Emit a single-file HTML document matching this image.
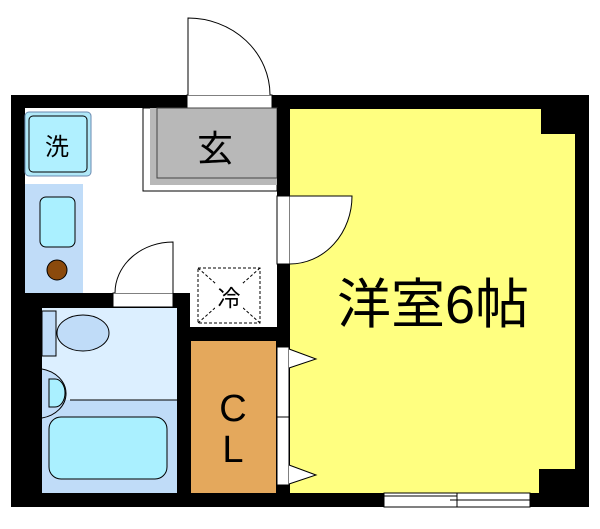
<!DOCTYPE html>
<html><head><meta charset="utf-8"><style>
body{margin:0;background:#fff;width:600px;height:524px;overflow:hidden}
svg text{font-family:"Liberation Sans","Noto Sans CJK JP",sans-serif}
</style></head><body>
<svg width="600" height="524" viewBox="0 0 600 524" xmlns="http://www.w3.org/2000/svg">
<rect x="11" y="95" width="578" height="412" fill="#000"/>
<rect x="25" y="108" width="252" height="185" fill="#fff"/>
<rect x="190" y="293" width="87" height="34" fill="#fff"/>
<rect x="290" y="109" width="285" height="384" fill="#ffff80"/>
<rect x="541" y="108" width="35" height="26" fill="#000"/>
<rect x="539" y="469" width="37" height="25" fill="#000"/>
<rect x="384" y="493" width="146" height="14" fill="#fff" stroke="#000" stroke-width="1"/>
<line x1="384" y1="496" x2="457" y2="496" stroke="#000"/>
<line x1="450" y1="500" x2="530" y2="500" stroke="#000"/>
<line x1="457" y1="493" x2="457" y2="507" stroke="#000"/>
<rect x="187" y="95" width="85" height="13" fill="#fff" stroke="#000" stroke-width="1"/>
<path d="M188 95 V18 A82 77 0 0 1 270 95" fill="#fff" stroke="#000"/>
<rect x="143" y="108" width="134" height="83" fill="#fff" stroke="#000"/>
<rect x="150" y="108" width="127" height="77" fill="#b8b8b8"/>
<rect x="157" y="108" width="120" height="70" fill="#b8b8b8" stroke="#444"/>
<text x="215" y="161" font-size="36" text-anchor="middle">玄</text>
<rect x="277" y="108" width="13" height="88" fill="#000"/>
<rect x="277" y="196" width="13" height="68" fill="#fff" stroke="#000" stroke-width="1"/>
<path d="M290 196 H352 A62 68 0 0 1 290 264" fill="#fff" stroke="#000"/>
<rect x="25" y="112" width="66" height="64" rx="4" fill="#b0e8f8" stroke="#6a8ab0"/>
<rect x="29" y="116" width="58" height="56" rx="4" fill="#b0f0ff" stroke="#000"/>
<text x="57" y="155" font-size="24" text-anchor="middle">洗</text>
<rect x="25" y="184" width="58" height="109" fill="#c0dcf8"/>
<rect x="40" y="197" width="35" height="50" rx="6" fill="#aaf0ff" stroke="#000"/>
<circle cx="57" cy="270" r="10" fill="#8b4a0c" stroke="#000"/>
<rect x="113" y="293" width="60" height="14" fill="#fff" stroke="#000"/>
<path d="M173 293 V242 A58 51 0 0 0 115 293" fill="#fff" stroke="#000"/>
<rect x="198" y="268" width="62" height="55" fill="#fff" stroke="#000" stroke-dasharray="3,2"/>
<path d="M198 268 L260 323 M260 268 L198 323" stroke="#000" stroke-dasharray="3,2"/>
<rect x="215" y="283" width="28" height="26" fill="#fff"/>
<text x="229" y="306" font-size="23" text-anchor="middle">冷</text>
<rect x="42" y="308" width="135" height="185" fill="#dcefff"/>
<rect x="42" y="400" width="135" height="93" fill="#c0dcf8"/>
<line x1="70" y1="400" x2="177" y2="400" stroke="#000"/>
<rect x="42" y="311" width="14" height="45" fill="#c0dcf8" stroke="#000"/>
<ellipse cx="83" cy="333" rx="26" ry="18" fill="#c0dcf8" stroke="#000"/>
<path d="M42 369 A30 25 0 0 1 42 418" fill="#c0dcf8" stroke="#000"/>
<path d="M49 379 H55 A10 14 0 0 1 55 407 H49 Z" fill="#aaf0ff" stroke="#000"/>
<rect x="49" y="417" width="118" height="62" rx="12" fill="#aaf0ff" stroke="#000"/>
<rect x="191" y="341" width="85" height="152" fill="#e4a85c"/>
<text x="233" y="421" font-size="38" text-anchor="middle">C</text>
<text x="233" y="462" font-size="38" text-anchor="middle">L</text>
<rect x="277" y="347" width="12" height="138" fill="#fff" stroke="#000"/>
<line x1="277" y1="417" x2="289" y2="417" stroke="#000"/>
<path d="M289 349 L316 359 L289 368" fill="#fff" stroke="#000"/>
<path d="M289 465 L316 475 L289 484" fill="#fff" stroke="#000"/>
<text x="433" y="323" font-size="54" text-anchor="middle">洋室6帖</text>
</svg>
</body></html>
